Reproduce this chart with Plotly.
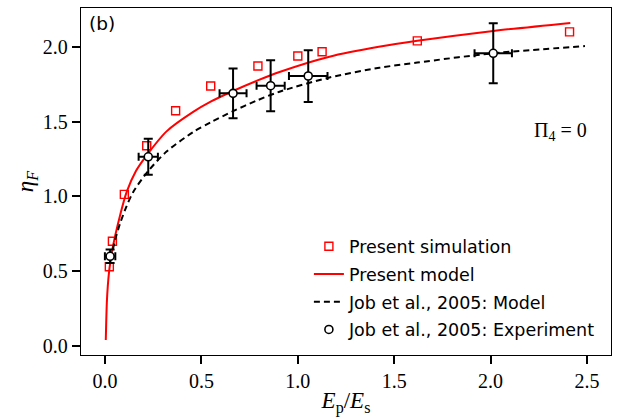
import plotly.graph_objects as go

# Present simulation (red open squares)
sim_x = [0.022, 0.038, 0.10, 0.216, 0.366, 0.548, 0.793, 1.00, 1.126, 1.62, 2.41]
sim_y = [0.53, 0.70, 1.014, 1.339, 1.573, 1.738, 1.872, 1.939, 1.967, 2.04, 2.10]

# Present model (red solid)
pm_x = [0.0036, 0.009, 0.014, 0.021, 0.026, 0.035, 0.052, 0.078, 0.112, 0.16, 0.21,
        0.319, 0.457, 0.55, 0.664, 0.785, 0.905, 1.164, 1.42, 1.62, 2.014, 2.414]
pm_y = [0.04, 0.29, 0.40, 0.50, 0.55, 0.625, 0.735, 0.875, 1.03, 1.17, 1.265,
        1.435, 1.565, 1.635, 1.705, 1.772, 1.832, 1.934, 2.00, 2.04, 2.106, 2.16]

# Job et al., 2005: Model (black dashed)
jm_x = [0.03, 0.05, 0.078, 0.11, 0.146, 0.224, 0.319, 0.457, 0.55, 0.664, 0.785, 0.905,
        1.164, 1.423, 1.62, 2.014, 2.49]
jm_y = [0.58, 0.70, 0.82, 0.93, 1.03, 1.17, 1.30, 1.43, 1.497, 1.57, 1.64, 1.70,
        1.795, 1.86, 1.895, 1.957, 2.005]

# Job et al., 2005: Experiment (black circles with error bars)
ex_x = [0.026, 0.224, 0.664, 0.859, 1.054, 2.014]
ex_y = [0.60, 1.265, 1.689, 1.74, 1.805, 1.957]
ex_xerr = [0.027, 0.05, 0.07, 0.073, 0.10, 0.097]
ex_yerr = [0.045, 0.12, 0.167, 0.17, 0.173, 0.20]

SANS = "DejaVu Sans"
SERIF = "Liberation Serif"

fig = go.Figure()
fig.add_trace(go.Scatter(
    x=sim_x, y=sim_y, mode="markers", name="Present simulation",
    legendgroup="a",
    marker=dict(symbol="square-open", size=8, color="red", line=dict(width=1.4, color="red")),
))
fig.add_trace(go.Scatter(
    x=pm_x, y=pm_y, mode="lines", name="Present model", legendgroup="b",
    line=dict(color="red", width=2, shape="spline", smoothing=0.8),
))
fig.add_trace(go.Scatter(
    x=jm_x, y=jm_y, mode="lines", name="Job et al., 2005: Model", legendgroup="c",
    line=dict(color="black", width=2, dash="6px,4px", shape="spline", smoothing=0.8),
))
fig.add_trace(go.Scatter(
    x=ex_x, y=ex_y, mode="markers", name="Job et al., 2005: Experiment", legendgroup="d",
    marker=dict(symbol="circle", size=8, color="white", line=dict(width=1.6, color="black")),
    error_x=dict(type="data", array=ex_xerr, color="black", thickness=2, width=4),
    error_y=dict(type="data", array=ex_yerr, color="black", thickness=2, width=4.5),
))

axis_common = dict(
    showline=True, linecolor="black", linewidth=1.3, mirror=True,
    ticks="outside", ticklen=8, tickwidth=1.5, tickcolor="black",
    showgrid=False, zeroline=False,
    tickfont=dict(family=SERIF, size=20, color="black"),
)

fig.update_xaxes(
    range=[-0.125, 2.625], tickvals=[0, 0.5, 1.0, 1.5, 2.0, 2.5],
    ticktext=["0.0", "0.5", "1.0", "1.5", "2.0", "2.5"],
    title=dict(text="<i>E</i><sub>p</sub>/<i>E</i><sub>s</sub>",
               font=dict(family=SERIF, size=23, color="black"), standoff=0),
    **axis_common,
)
fig.update_yaxes(
    range=[-0.06, 2.2596], tickvals=[0, 0.5, 1.0, 1.5, 2.0],
    ticktext=["0.0", "0.5", "1.0", "1.5", "2.0"],
    title=dict(text="<i>η</i><sub><i>F</i></sub>",
               font=dict(family=SERIF, size=23, color="black"), standoff=2),
    **axis_common,
)

fig.add_annotation(xref="paper", yref="paper", x=0.012, y=0.99, xanchor="left", yanchor="top",
                   text="(b)", showarrow=False, font=dict(family=SANS, size=18.5, color="black"))
fig.add_annotation(xref="paper", yref="paper", x=0.958, y=0.645, xanchor="right", yanchor="middle",
                   text="Π<sub>4</sub> = 0", showarrow=False,
                   font=dict(family=SERIF, size=20, color="black"))

fig.update_layout(
    width=617, height=418,
    margin=dict(l=81, r=6, t=8, b=63),
    paper_bgcolor="white", plot_bgcolor="white",
    showlegend=True,
    legend=dict(x=0.43, y=0.365, xanchor="left", yanchor="top",
                bgcolor="rgba(0,0,0,0)", borderwidth=0,
                font=dict(family=SANS, size=17.5, color="black"),
                traceorder="grouped", tracegroupgap=2),
)

fig.write_html("out.html")
